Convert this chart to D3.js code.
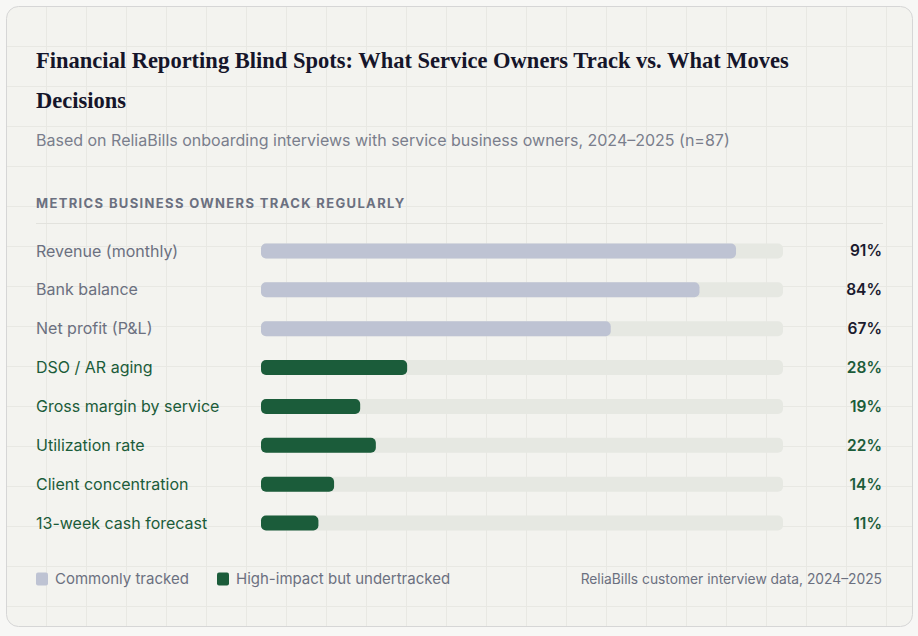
<!DOCTYPE html>
<html>
<head>
<meta charset="utf-8">
<script src="https://cdn.jsdelivr.net/npm/d3@7"></script>
<style>
  html, body { margin: 0; padding: 0; background: #f7f7f5; }
  svg { display: block; }
</style>
</head>
<body>
<div id="output"></div>
<script>
// chart data
var metrics = ['Revenue (monthly)', 'Bank balance', 'Net profit (P&L)', 'DSO / AR aging',
  'Gross margin by service', 'Utilization rate', 'Client concentration', '13-week cash forecast'];
var shares = [91, 84, 67, 28, 19, 22, 14, 11];
var groups = ['tracked', 'tracked', 'tracked', 'gap', 'gap', 'gap', 'gap', 'gap'];
var legendLabels = ['Commonly tracked', 'High-impact but undertracked'];

var titleLines = ['Financial Reporting Blind Spots: What Service Owners Track vs. What Moves', 'Decisions'];
var subtitle = 'Based on ReliaBills onboarding interviews with service business owners, 2024\u20132025 (n=87)';
var sectionLabel = 'METRICS BUSINESS OWNERS TRACK REGULARLY';
var sourceNote = 'ReliaBills customer interview data, 2024\u20132025';

var width = 918;
var height = 636;
var sans = 'Inter, "Noto Sans", sans-serif';
var serif = '"Liberation Serif", "DejaVu Serif", serif';

var colors = {
  tracked: '#bec3d3',
  gap: '#1b5c3a',
  track: '#e6e8e2',
  labelTracked: '#6b7080',
  valueTracked: '#1a1a2e'
};

var svg = d3.select('#output')
  .append('svg')
  .attr('width', width)
  .attr('height', height);

// card with faint grid
var card = { x: 6.5, y: 6.5, w: 906, h: 620 };
var defs = svg.append('defs');
defs.append('clipPath').attr('id', 'cardClip')
  .append('rect')
  .attr('x', card.x).attr('y', card.y)
  .attr('width', card.w).attr('height', card.h)
  .attr('rx', 12);

svg.append('rect')
  .attr('x', card.x).attr('y', card.y)
  .attr('width', card.w).attr('height', card.h)
  .attr('rx', 12)
  .attr('fill', '#f3f3ef');

var grid = svg.append('g').attr('clip-path', 'url(#cardClip)')
  .attr('stroke', '#e8e8e3').attr('stroke-width', 1);
d3.range(46.5, width, 40).forEach(function(x){
  grid.append('line').attr('x1', x).attr('x2', x).attr('y1', 0).attr('y2', height);
});
d3.range(46.5, height, 40).forEach(function(y){
  grid.append('line').attr('x1', 0).attr('x2', width).attr('y1', y).attr('y2', y);
});

svg.append('rect')
  .attr('x', card.x).attr('y', card.y)
  .attr('width', card.w).attr('height', card.h)
  .attr('rx', 12)
  .attr('fill', 'none')
  .attr('stroke', '#d6d6d6');

// title + subtitle
svg.append('g').selectAll('text')
  .data(titleLines)
  .enter()
  .append('text')
  .attr('x', 36)
  .attr('y', function(_, i){ return 68 + i * 40; })
  .attr('font-family', serif)
  .attr('font-weight', 700)
  .attr('font-size', 22.5)
  .attr('fill', '#15152a')
  .text(function(d){ return d; });

svg.append('text')
  .attr('x', 36).attr('y', 146)
  .attr('font-family', sans)
  .attr('font-size', 16)
  .attr('fill', '#7a7e8c')
  .text(subtitle);

svg.append('text')
  .attr('x', 36).attr('y', 208)
  .attr('font-family', sans)
  .attr('font-size', 13)
  .attr('font-weight', 700)
  .attr('letter-spacing', 1.35)
  .attr('fill', '#6b7080')
  .text(sectionLabel);

svg.append('line')
  .attr('x1', 36).attr('x2', 883)
  .attr('y1', 223.5).attr('y2', 223.5)
  .attr('stroke', '#e2e2dd');

// scales
var xScale = d3.scaleLinear().domain([0, 100]).range([261, 783]);
var yScale = d3.scaleBand().domain(metrics).range([231.5, 542.5]);
var barH = 15;

var rows = svg.append('g').selectAll('g')
  .data(metrics)
  .enter()
  .append('g')
  .attr('transform', function(d){ return 'translate(0,' + (yScale(d) + yScale.bandwidth() / 2) + ')'; });

rows.append('text')
  .attr('x', 36)
  .attr('dy', '0.35em')
  .attr('font-family', sans)
  .attr('font-size', 16)
  .attr('fill', function(_, i){ return groups[i] === 'gap' ? colors.gap : colors.labelTracked; })
  .text(function(d){ return d; });

rows.append('rect')
  .attr('x', xScale(0))
  .attr('y', -barH / 2)
  .attr('width', xScale(100) - xScale(0))
  .attr('height', barH)
  .attr('rx', 5)
  .attr('fill', colors.track);

rows.append('rect')
  .attr('x', xScale(0))
  .attr('y', -barH / 2)
  .attr('width', function(_, i){ return xScale(shares[i]) - xScale(0); })
  .attr('height', barH)
  .attr('rx', 5)
  .attr('fill', function(_, i){ return colors[groups[i]]; });

rows.append('text')
  .attr('x', 882)
  .attr('dy', '0.35em')
  .attr('text-anchor', 'end')
  .attr('font-family', sans)
  .attr('font-size', 15.5)
  .attr('font-weight', 600)
  .attr('fill', function(_, i){ return groups[i] === 'gap' ? colors.gap : colors.valueTracked; })
  .text(function(_, i){ return shares[i] + '%'; });

// legend
var legendX = [36, 217];
var legend = svg.append('g').selectAll('g')
  .data(legendLabels)
  .enter()
  .append('g')
  .attr('transform', function(_, i){ return 'translate(' + legendX[i] + ',579)'; });

legend.append('rect')
  .attr('x', 0).attr('y', -6.5)
  .attr('width', 12).attr('height', 13)
  .attr('rx', 2)
  .attr('fill', function(_, i){ return i === 0 ? colors.tracked : colors.gap; });

legend.append('text')
  .attr('x', 19)
  .attr('dy', '0.35em')
  .attr('font-family', sans)
  .attr('font-size', 15)
  .attr('fill', colors.labelTracked)
  .text(function(d){ return d; });

svg.append('text')
  .attr('x', 882).attr('y', 579)
  .attr('dy', '0.35em')
  .attr('text-anchor', 'end')
  .attr('font-family', sans)
  .attr('font-size', 13.8)
  .attr('fill', colors.labelTracked)
  .text(sourceNote);
</script>
</body>
</html>
